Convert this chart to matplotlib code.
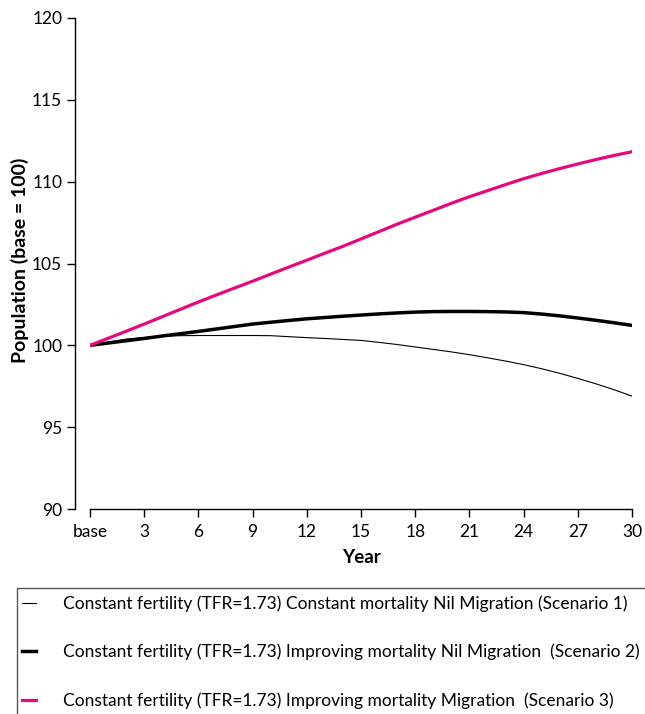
import matplotlib
matplotlib.use('Agg')
import matplotlib.pyplot as plt
from matplotlib.patches import Rectangle

plt.rcParams['font.family'] = ['Lato', 'DejaVu Sans']

years = list(range(0, 31))
tick_years = [0, 3, 6, 9, 12, 15, 18, 21, 24, 27, 30]
tick_labels = ['base', '3', '6', '9', '12', '15', '18', '21', '24', '27', '30']

scen1 = [100, 100.2, 100.38, 100.48, 100.55, 100.59, 100.6, 100.6, 100.6, 100.6,
         100.59, 100.53, 100.47, 100.42, 100.36, 100.3, 100.18, 100.05, 99.9, 99.75,
         99.6, 99.43, 99.24, 99.04, 98.82, 98.57, 98.29, 97.98, 97.65, 97.29, 96.9]
scen2 = [100, 100.14, 100.28, 100.42, 100.57, 100.71, 100.85, 101.0, 101.15, 101.3,
         101.41, 101.52, 101.62, 101.7, 101.78, 101.85, 101.92, 101.98, 102.03, 102.06,
         102.07, 102.07, 102.06, 102.04, 102.0, 101.91, 101.8, 101.67, 101.53, 101.38, 101.22]
scen3 = [100, 100.43, 100.86, 101.3, 101.75, 102.2, 102.65, 103.08, 103.5, 103.92,
         104.35, 104.78, 105.2, 105.63, 106.05, 106.5, 106.95, 107.4, 107.83, 108.25,
         108.68, 109.08, 109.45, 109.82, 110.18, 110.5, 110.8, 111.08, 111.35, 111.6, 111.83]

labels = ['Constant fertility (TFR=1.73) Constant mortality Nil Migration (Scenario 1)',
          'Constant fertility (TFR=1.73) Improving mortality Nil Migration  (Scenario 2)',
          'Constant fertility (TFR=1.73) Improving mortality Migration  (Scenario 3)']

W, H = 645, 714
fig = plt.figure(figsize=(W / 100, H / 100), dpi=100)
ax = fig.add_axes([90 / W, (H - 509) / H, 542 / W, 491 / H])

l1, = ax.plot(years, scen1, color='black', lw=0.8)
l2, = ax.plot(years, scen2, color='black', lw=2.5)
l3, = ax.plot(years, scen3, color='#e5097f', lw=2.3)

ax.set_xlim(0, 30)
ax.set_ylim(90, 120)
ax.set_xticks(tick_years)
ax.set_xticklabels(tick_labels)
ax.set_yticks([90, 95, 100, 105, 110, 115, 120])

for s in ['top', 'right']:
    ax.spines[s].set_visible(False)
ax.spines['left'].set_position(('outward', 11))
ax.spines['left'].set_linewidth(1.0)
ax.spines['bottom'].set_linewidth(1.0)
ax.tick_params(axis='both', direction='out', length=6, width=1.0, labelsize=12.5)
ax.tick_params(axis='x', pad=5)
ax.tick_params(axis='y', pad=3)

ax.set_xlabel('Year', fontsize=13.5, fontweight='bold', labelpad=6)
ax.set_ylabel('Population (base = 100)', fontsize=14, fontweight='bold')
ax.yaxis.set_label_coords((29 - 90) / 542, 0.507)

# legend box (runs off the figure edge as in the source)
fig.patches.append(Rectangle((17 / W, -0.02), 640 / W, (H - 588) / H + 0.02,
                             transform=fig.transFigure, fill=False,
                             edgecolor='#555555', lw=1.0))
fig.legend([l1, l2, l3], labels, loc='upper left',
           bbox_to_anchor=(20 / W, 1 - 594 / H), frameon=False, fontsize=12.5,
           handlelength=0.85, handletextpad=1.55, labelspacing=1.82,
           borderaxespad=0, borderpad=0.1)

fig.savefig('out.png', dpi=100)
